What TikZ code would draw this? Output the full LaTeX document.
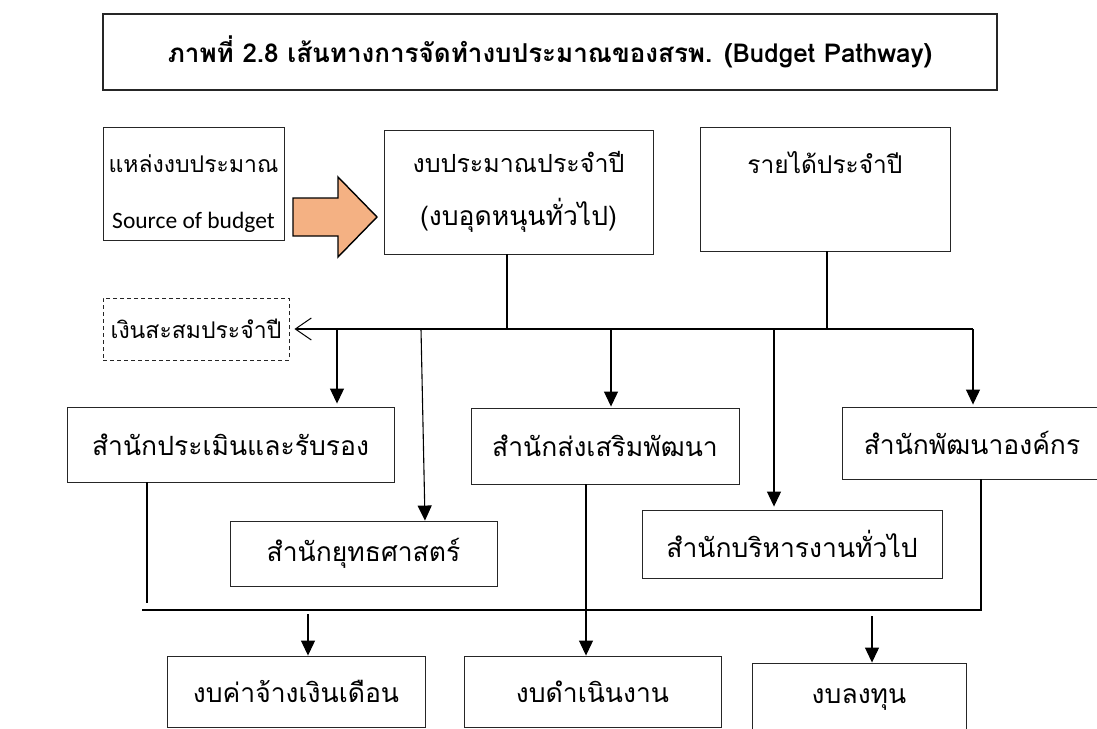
\documentclass[tikz,border=0pt]{standalone}
\usepackage{fontspec}
\setmainfont[Script=Thai]{Loma}
\newfontfamily\latinfont{Carlito}
\usetikzlibrary{arrows.meta}
\definecolor{arrowfill}{HTML}{F4B183}
\newcommand{\bodyfont}{\fontsize{26.5}{53}\selectfont}
\newcommand{\smallbody}{\fontsize{23}{56}\selectfont}
\newcommand{\latinsz}{\latinfont\fontsize{23.5}{56}\selectfont}
\newcommand{\headfont}{\fontsize{26}{30}\selectfont\bfseries}
\begin{document}
\begin{tikzpicture}[x=1pt,y=-1pt,
  box/.style={draw=black!85, line width=0.9pt, inner sep=0pt, align=center, font=\bodyfont},
  bus/.style={draw=black, line width=1.3pt},
  arr/.style={draw=black, line width=1.1pt, -{Triangle[length=15pt,width=14pt]}},
  openarr/.style={draw=black, line width=1.1pt, -{Straight Barb[length=16pt,width=22pt,line width=1pt]}}]
\useasboundingbox (0,0) rectangle (1097,728);
\fill[white] (0,0) rectangle (1097,728);
\clip (0,0) rectangle (1097,728);

% title
\node[box, line width=1.2pt, minimum width=894pt, minimum height=76pt, font=\headfont] (title) at (550,52)
  {ภาพที่ 2.8 เส้นทางการจัดทำงบประมาณของสรพ. (Budget Pathway)};

% top row
\node[box, minimum width=181pt, minimum height=113pt, font=\smallbody] (src) at (193.5,183.5)
  {\rule{0pt}{38pt}แหล่งงบประมาณ\\{\latinsz Source of budget}};
\node[box, minimum width=269pt, minimum height=124pt] (annual) at (518.5,192)
  {{\fontsize{25}{53}\selectfont งบประมาณประจำปี}\\(งบอุดหนุนทั่วไป)};
\node[box, minimum width=250pt, minimum height=124pt, font=\fontsize{24.5}{53}\selectfont] (revenue) at (825,189) {รายได้ประจำปี\\\mbox{}};

% block arrow
\draw[fill=arrowfill, draw=black, line width=1.4pt, line join=miter]
  (293,198) -- (338,198) -- (338,177) -- (377,217) -- (338,257) -- (338,236) -- (293,236) -- cycle;

% accumulated
\node[box, dashed, dash pattern=on 4pt off 3pt, minimum width=186pt, minimum height=62pt, font=\smallbody] (accum) at (196,329) {เงินสะสมประจำปี};

% offices
\node[box, minimum width=327pt, minimum height=75pt] (pm) at (230.5,444.5) {สำนักประเมินและรับรอง};
\node[box, minimum width=267pt, minimum height=65pt] (yt) at (363.5,553.5) {สำนักยุทธศาสตร์};
\node[box, minimum width=268pt, minimum height=76pt] (ss) at (605,446) {สำนักส่งเสริมพัฒนา};
\node[box, minimum width=300pt, minimum height=68pt] (bh) at (792,544) {สำนักบริหารงานทั่วไป};
\node[box, minimum width=260pt, minimum height=72pt] (pd) at (972,443) {สำนักพัฒนาองค์กร};

% budget types
\node[box, minimum width=258pt, minimum height=71pt] (sal) at (296,691.5) {งบค่าจ้างเงินเดือน};
\node[box, minimum width=257pt, minimum height=71pt] (op) at (592.5,691.5) {งบดำเนินงาน};
\node[box, minimum width=214pt, minimum height=74pt] (inv) at (859,700) {งบลงทุน};

% upper bus
\coordinate (j1) at (507,329);
\coordinate (j2) at (827,329);
\coordinate (busR) at (973,329);
\coordinate (d1) at (337,329);
\coordinate (d2) at (421,329);
\coordinate (d3) at (611,329);
\coordinate (d4) at (774,329);
\draw[bus] (annual.south -| j1) -- (j1);
\draw[bus] (revenue.south -| j2) -- (j2);
\draw[openarr] (busR) -- ([xshift=5pt]accum.east);
\draw[arr, shorten >=3pt] (d1) -- (d1 |- pm.north);
\draw[arr] (d2) -- ([xshift=61.5pt]yt.north);
\draw[arr, shorten >=1pt] (d3) -- (d3 |- ss.north);
\draw[arr, shorten >=3pt] (d4) -- (d4 |- bh.north);
\draw[arr, shorten >=2pt] (busR) -- (busR |- pd.north);

% lower bus
\coordinate (b1) at (142,610);
\coordinate (pmEnd) at (147,603);
\coordinate (c1) at (308,614);
\coordinate (c3) at (872,616);
\draw[bus] (pm.south -| pmEnd) -- (pmEnd);
\draw[bus] ([xshift=9pt]pd.south) |- (b1);
\draw[arr] ([xshift=-19pt]ss.south) -- ([xshift=-6.5pt]op.north);
\draw[arr] (c1) -- (c1 |- sal.north);
\draw[arr] (c3) -- (c3 |- inv.north);
\end{tikzpicture}
\end{document}
